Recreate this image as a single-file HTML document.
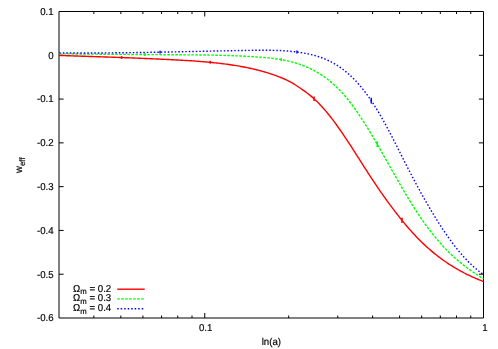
<!DOCTYPE html>
<html><head><meta charset="utf-8"><title>plot</title>
<style>html,body{margin:0;padding:0;background:#fff;}body{width:498px;height:349px;overflow:hidden;position:relative;font-family:"Liberation Sans",sans-serif;}</style>
</head><body>
<svg width="498" height="349" viewBox="0 0 498 349" style="position:absolute;left:0;top:0;will-change:transform;opacity:0.999">
<path d="M59.0,11.5H483.5V318.0H59.0Z M59.0,55.29h4.6M483.5,55.29h-4.6 M59.0,99.07h4.6M483.5,99.07h-4.6 M59.0,142.86h4.6M483.5,142.86h-4.6 M59.0,186.64h4.6M483.5,186.64h-4.6 M59.0,230.43h4.6M483.5,230.43h-4.6 M59.0,274.21h4.6M483.5,274.21h-4.6 M93.83,318.0v-2.5M93.83,11.5v2.5 M120.84,318.0v-2.5M120.84,11.5v2.5 M142.91,318.0v-2.5M142.91,11.5v2.5 M161.57,318.0v-2.5M161.57,11.5v2.5 M177.74,318.0v-2.5M177.74,11.5v2.5 M192.00,318.0v-2.5M192.00,11.5v2.5 M288.66,318.0v-2.5M288.66,11.5v2.5 M337.75,318.0v-2.5M337.75,11.5v2.5 M372.57,318.0v-2.5M372.57,11.5v2.5 M399.59,318.0v-2.5M399.59,11.5v2.5 M421.66,318.0v-2.5M421.66,11.5v2.5 M440.32,318.0v-2.5M440.32,11.5v2.5 M456.49,318.0v-2.5M456.49,11.5v2.5 M470.75,318.0v-2.5M470.75,11.5v2.5 M204.75,318.0v-5M204.75,11.5v5" fill="none" stroke="#000" stroke-width="1"/>
<g fill="none" stroke-width="1.4" stroke-linejoin="round">
<path d="M59.30,55.43 L60.80,55.48 L62.30,55.53 L63.80,55.58 L65.30,55.63 L66.80,55.68 L68.30,55.73 L69.80,55.78 L71.30,55.83 L72.80,55.88 L74.30,55.93 L75.80,55.98 L77.30,56.03 L78.80,56.08 L80.30,56.13 L81.80,56.18 L83.30,56.23 L84.80,56.28 L86.30,56.33 L87.80,56.38 L89.30,56.43 L90.80,56.48 L92.30,56.53 L93.80,56.58 L95.30,56.63 L96.80,56.68 L98.30,56.73 L99.80,56.78 L101.30,56.83 L102.80,56.88 L104.30,56.93 L105.80,56.99 L107.30,57.04 L108.80,57.09 L110.30,57.14 L111.80,57.19 L113.30,57.25 L114.80,57.30 L116.30,57.35 L117.80,57.41 L119.30,57.46 L120.80,57.51 L122.30,57.57 L123.80,57.63 L125.30,57.68 L126.80,57.74 L128.30,57.79 L129.80,57.85 L131.30,57.91 L132.80,57.97 L134.30,58.02 L135.80,58.08 L137.30,58.14 L138.80,58.20 L140.30,58.26 L141.80,58.33 L143.30,58.39 L144.80,58.45 L146.30,58.51 L147.80,58.58 L149.30,58.64 L150.80,58.71 L152.30,58.77 L153.80,58.84 L155.30,58.91 L156.80,58.98 L158.30,59.04 L159.80,59.11 L161.30,59.18 L162.80,59.26 L164.30,59.33 L165.80,59.40 L167.30,59.47 L168.80,59.55 L170.30,59.62 L171.80,59.70 L173.30,59.78 L174.80,59.86 L176.30,59.94 L177.80,60.02 L179.30,60.10 L180.80,60.18 L182.30,60.27 L183.80,60.35 L185.30,60.44 L186.80,60.53 L188.30,60.62 L189.80,60.72 L191.30,60.81 L192.80,60.91 L194.30,61.02 L195.80,61.12 L197.30,61.23 L198.80,61.34 L200.30,61.46 L201.80,61.58 L203.30,61.70 L204.80,61.83 L206.30,61.96 L207.80,62.09 L209.30,62.23 L210.80,62.38 L212.30,62.52 L213.80,62.68 L215.30,62.84 L216.80,63.00 L218.30,63.17 L219.80,63.34 L221.30,63.52 L222.80,63.71 L224.30,63.90 L225.80,64.10 L227.30,64.30 L228.80,64.51 L230.30,64.73 L231.80,64.96 L233.30,65.19 L234.80,65.42 L236.30,65.67 L237.80,65.92 L239.30,66.18 L240.80,66.45 L242.30,66.73 L243.80,67.01 L245.30,67.30 L246.80,67.60 L248.30,67.91 L249.80,68.23 L251.30,68.55 L252.80,68.89 L254.30,69.24 L255.80,69.59 L257.30,69.96 L258.80,70.34 L260.30,70.73 L261.80,71.14 L263.30,71.56 L264.80,71.99 L266.30,72.43 L267.80,72.89 L269.30,73.36 L270.80,73.85 L272.30,74.35 L273.80,74.87 L275.30,75.41 L276.80,75.96 L278.30,76.53 L279.80,77.12 L281.30,77.73 L282.80,78.35 L284.30,79.00 L285.80,79.67 L287.30,80.37 L288.80,81.10 L290.30,81.89 L291.80,82.72 L293.30,83.60 L294.80,84.53 L296.30,85.49 L297.80,86.48 L299.30,87.49 L300.80,88.51 L302.30,89.55 L303.80,90.61 L305.30,91.69 L306.80,92.80 L308.30,93.95 L309.80,95.14 L311.30,96.37 L312.80,97.65 L314.30,98.99 L315.80,100.39 L317.30,101.84 L318.80,103.34 L320.30,104.90 L321.80,106.51 L323.30,108.17 L324.80,109.88 L326.30,111.65 L327.80,113.46 L329.30,115.31 L330.80,117.22 L332.30,119.17 L333.80,121.16 L335.30,123.19 L336.80,125.26 L338.30,127.36 L339.80,129.50 L341.30,131.66 L342.80,133.86 L344.30,136.08 L345.80,138.32 L347.30,140.59 L348.80,142.87 L350.30,145.18 L351.80,147.49 L353.30,149.82 L354.80,152.16 L356.30,154.51 L357.80,156.87 L359.30,159.22 L360.80,161.58 L362.30,163.94 L363.80,166.29 L365.30,168.64 L366.80,170.98 L368.30,173.31 L369.80,175.63 L371.30,177.93 L372.80,180.21 L374.30,182.48 L375.80,184.73 L377.30,186.95 L378.80,189.14 L380.30,191.31 L381.80,193.46 L383.30,195.59 L384.80,197.69 L386.30,199.77 L387.80,201.83 L389.30,203.87 L390.80,205.88 L392.30,207.89 L393.80,209.87 L395.30,211.83 L396.80,213.77 L398.30,215.69 L399.80,217.59 L401.30,219.47 L402.80,221.32 L404.30,223.14 L405.80,224.94 L407.30,226.71 L408.80,228.45 L410.30,230.16 L411.80,231.84 L413.30,233.48 L414.80,235.10 L416.30,236.68 L417.80,238.23 L419.30,239.75 L420.80,241.24 L422.30,242.70 L423.80,244.13 L425.30,245.53 L426.80,246.90 L428.30,248.25 L429.80,249.56 L431.30,250.85 L432.80,252.11 L434.30,253.34 L435.80,254.55 L437.30,255.73 L438.80,256.89 L440.30,258.02 L441.80,259.12 L443.30,260.20 L444.80,261.26 L446.30,262.29 L447.80,263.31 L449.30,264.29 L450.80,265.26 L452.30,266.20 L453.80,267.12 L455.30,268.02 L456.80,268.90 L458.30,269.76 L459.80,270.60 L461.30,271.42 L462.80,272.22 L464.30,273.00 L465.80,273.76 L467.30,274.51 L468.80,275.24 L470.30,275.95 L471.80,276.64 L473.30,277.32 L474.80,277.98 L476.30,278.63 L477.80,279.26 L479.30,279.87 L480.80,280.47 L482.30,281.06 L483.50,281.52" stroke="#f00"/>
<path d="M59.30,53.81 L60.80,53.83 L62.30,53.84 L63.80,53.85 L65.30,53.87 L66.80,53.88 L68.30,53.89 L69.80,53.91 L71.30,53.92 L72.80,53.93 L74.30,53.95 L75.80,53.96 L77.30,53.97 L78.80,53.99 L80.30,54.00 L81.80,54.01 L83.30,54.03 L84.80,54.04 L86.30,54.05 L87.80,54.07 L89.30,54.08 L90.80,54.09 L92.30,54.11 L93.80,54.12 L95.30,54.14 L96.80,54.15 L98.30,54.16 L99.80,54.18 L101.30,54.19 L102.80,54.20 L104.30,54.22 L105.80,54.23 L107.30,54.24 L108.80,54.26 L110.30,54.27 L111.80,54.28 L113.30,54.30 L114.80,54.31 L116.30,54.32 L117.80,54.33 L119.30,54.35 L120.80,54.36 L122.30,54.37 L123.80,54.39 L125.30,54.40 L126.80,54.41 L128.30,54.42 L129.80,54.44 L131.30,54.45 L132.80,54.46 L134.30,54.47 L135.80,54.49 L137.30,54.50 L138.80,54.51 L140.30,54.52 L141.80,54.53 L143.30,54.55 L144.80,54.56 L146.30,54.57 L147.80,54.58 L149.30,54.59 L150.80,54.60 L152.30,54.61 L153.80,54.62 L155.30,54.64 L156.80,54.65 L158.30,54.66 L159.80,54.67 L161.30,54.68 L162.80,54.69 L164.30,54.70 L165.80,54.71 L167.30,54.72 L168.80,54.73 L170.30,54.74 L171.80,54.75 L173.30,54.76 L174.80,54.77 L176.30,54.78 L177.80,54.78 L179.30,54.79 L180.80,54.80 L182.30,54.81 L183.80,54.82 L185.30,54.83 L186.80,54.84 L188.30,54.85 L189.80,54.86 L191.30,54.87 L192.80,54.89 L194.30,54.90 L195.80,54.91 L197.30,54.93 L198.80,54.94 L200.30,54.96 L201.80,54.98 L203.30,54.99 L204.80,55.01 L206.30,55.03 L207.80,55.06 L209.30,55.08 L210.80,55.11 L212.30,55.13 L213.80,55.16 L215.30,55.19 L216.80,55.22 L218.30,55.26 L219.80,55.29 L221.30,55.33 L222.80,55.37 L224.30,55.41 L225.80,55.45 L227.30,55.50 L228.80,55.55 L230.30,55.60 L231.80,55.65 L233.30,55.71 L234.80,55.77 L236.30,55.83 L237.80,55.89 L239.30,55.96 L240.80,56.03 L242.30,56.10 L243.80,56.18 L245.30,56.26 L246.80,56.34 L248.30,56.42 L249.80,56.51 L251.30,56.60 L252.80,56.70 L254.30,56.80 L255.80,56.90 L257.30,57.01 L258.80,57.12 L260.30,57.23 L261.80,57.35 L263.30,57.47 L264.80,57.60 L266.30,57.74 L267.80,57.88 L269.30,58.04 L270.80,58.20 L272.30,58.37 L273.80,58.56 L275.30,58.75 L276.80,58.96 L278.30,59.18 L279.80,59.42 L281.30,59.67 L282.80,59.94 L284.30,60.22 L285.80,60.53 L287.30,60.85 L288.80,61.19 L290.30,61.55 L291.80,61.93 L293.30,62.33 L294.80,62.75 L296.30,63.20 L297.80,63.67 L299.30,64.17 L300.80,64.69 L302.30,65.24 L303.80,65.82 L305.30,66.42 L306.80,67.06 L308.30,67.72 L309.80,68.41 L311.30,69.14 L312.80,69.90 L314.30,70.69 L315.80,71.51 L317.30,72.38 L318.80,73.27 L320.30,74.21 L321.80,75.18 L323.30,76.20 L324.80,77.25 L326.30,78.35 L327.80,79.49 L329.30,80.67 L330.80,81.90 L332.30,83.17 L333.80,84.50 L335.30,85.87 L336.80,87.29 L338.30,88.76 L339.80,90.29 L341.30,91.86 L342.80,93.49 L344.30,95.18 L345.80,96.92 L347.30,98.72 L348.80,100.58 L350.30,102.50 L351.80,104.47 L353.30,106.49 L354.80,108.57 L356.30,110.69 L357.80,112.87 L359.30,115.08 L360.80,117.34 L362.30,119.64 L363.80,121.98 L365.30,124.36 L366.80,126.77 L368.30,129.21 L369.80,131.68 L371.30,134.17 L372.80,136.70 L374.30,139.24 L375.80,141.81 L377.30,144.40 L378.80,147.00 L380.30,149.61 L381.80,152.24 L383.30,154.88 L384.80,157.53 L386.30,160.18 L387.80,162.84 L389.30,165.49 L390.80,168.15 L392.30,170.81 L393.80,173.45 L395.30,176.10 L396.80,178.73 L398.30,181.35 L399.80,183.95 L401.30,186.55 L402.80,189.12 L404.30,191.67 L405.80,194.20 L407.30,196.70 L408.80,199.18 L410.30,201.63 L411.80,204.05 L413.30,206.44 L414.80,208.78 L416.30,211.10 L417.80,213.38 L419.30,215.62 L420.80,217.82 L422.30,219.99 L423.80,222.12 L425.30,224.22 L426.80,226.27 L428.30,228.30 L429.80,230.28 L431.30,232.23 L432.80,234.14 L434.30,236.01 L435.80,237.84 L437.30,239.64 L438.80,241.40 L440.30,243.12 L441.80,244.81 L443.30,246.45 L444.80,248.06 L446.30,249.63 L447.80,251.16 L449.30,252.65 L450.80,254.11 L452.30,255.52 L453.80,256.91 L455.30,258.26 L456.80,259.57 L458.30,260.86 L459.80,262.11 L461.30,263.33 L462.80,264.53 L464.30,265.70 L465.80,266.85 L467.30,267.97 L468.80,269.07 L470.30,270.14 L471.80,271.20 L473.30,272.24 L474.80,273.26 L476.30,274.27 L477.80,275.25 L479.30,276.23 L480.80,277.19 L482.30,278.15 L483.50,278.90" stroke="#0f0" stroke-dasharray="2.6 1.4"/>
<path d="M59.30,52.90 L60.80,52.91 L62.30,52.92 L63.80,52.93 L65.30,52.94 L66.80,52.95 L68.30,52.96 L69.80,52.97 L71.30,52.98 L72.80,52.98 L74.30,52.99 L75.80,52.99 L77.30,52.99 L78.80,53.00 L80.30,53.00 L81.80,53.00 L83.30,53.00 L84.80,53.00 L86.30,52.99 L87.80,52.99 L89.30,52.99 L90.80,52.98 L92.30,52.98 L93.80,52.97 L95.30,52.97 L96.80,52.96 L98.30,52.95 L99.80,52.94 L101.30,52.94 L102.80,52.93 L104.30,52.92 L105.80,52.90 L107.30,52.89 L108.80,52.88 L110.30,52.87 L111.80,52.85 L113.30,52.84 L114.80,52.83 L116.30,52.81 L117.80,52.79 L119.30,52.78 L120.80,52.76 L122.30,52.74 L123.80,52.72 L125.30,52.71 L126.80,52.69 L128.30,52.67 L129.80,52.65 L131.30,52.63 L132.80,52.61 L134.30,52.58 L135.80,52.56 L137.30,52.54 L138.80,52.52 L140.30,52.49 L141.80,52.47 L143.30,52.45 L144.80,52.42 L146.30,52.40 L147.80,52.37 L149.30,52.35 L150.80,52.32 L152.30,52.29 L153.80,52.27 L155.30,52.24 L156.80,52.21 L158.30,52.19 L159.80,52.16 L161.30,52.13 L162.80,52.10 L164.30,52.07 L165.80,52.05 L167.30,52.02 L168.80,51.99 L170.30,51.96 L171.80,51.93 L173.30,51.90 L174.80,51.87 L176.30,51.84 L177.80,51.81 L179.30,51.78 L180.80,51.75 L182.30,51.72 L183.80,51.68 L185.30,51.65 L186.80,51.62 L188.30,51.59 L189.80,51.56 L191.30,51.53 L192.80,51.50 L194.30,51.47 L195.80,51.43 L197.30,51.40 L198.80,51.37 L200.30,51.34 L201.80,51.31 L203.30,51.28 L204.80,51.25 L206.30,51.21 L207.80,51.18 L209.30,51.15 L210.80,51.12 L212.30,51.09 L213.80,51.06 L215.30,51.03 L216.80,50.99 L218.30,50.96 L219.80,50.93 L221.30,50.90 L222.80,50.87 L224.30,50.84 L225.80,50.81 L227.30,50.78 L228.80,50.75 L230.30,50.72 L231.80,50.69 L233.30,50.66 L234.80,50.64 L236.30,50.61 L237.80,50.58 L239.30,50.55 L240.80,50.52 L242.30,50.49 L243.80,50.47 L245.30,50.44 L246.80,50.41 L248.30,50.39 L249.80,50.36 L251.30,50.34 L252.80,50.31 L254.30,50.29 L255.80,50.27 L257.30,50.25 L258.80,50.24 L260.30,50.23 L261.80,50.22 L263.30,50.22 L264.80,50.22 L266.30,50.23 L267.80,50.24 L269.30,50.26 L270.80,50.28 L272.30,50.31 L273.80,50.35 L275.30,50.39 L276.80,50.44 L278.30,50.50 L279.80,50.56 L281.30,50.64 L282.80,50.72 L284.30,50.82 L285.80,50.92 L287.30,51.03 L288.80,51.16 L290.30,51.29 L291.80,51.44 L293.30,51.60 L294.80,51.77 L296.30,51.95 L297.80,52.14 L299.30,52.35 L300.80,52.57 L302.30,52.81 L303.80,53.06 L305.30,53.33 L306.80,53.62 L308.30,53.92 L309.80,54.25 L311.30,54.60 L312.80,54.97 L314.30,55.37 L315.80,55.79 L317.30,56.24 L318.80,56.72 L320.30,57.22 L321.80,57.76 L323.30,58.33 L324.80,58.94 L326.30,59.58 L327.80,60.25 L329.30,60.96 L330.80,61.72 L332.30,62.51 L333.80,63.34 L335.30,64.21 L336.80,65.13 L338.30,66.09 L339.80,67.10 L341.30,68.16 L342.80,69.27 L344.30,70.42 L345.80,71.62 L347.30,72.88 L348.80,74.19 L350.30,75.55 L351.80,76.97 L353.30,78.44 L354.80,79.96 L356.30,81.55 L357.80,83.19 L359.30,84.89 L360.80,86.65 L362.30,88.47 L363.80,90.35 L365.30,92.30 L366.80,94.30 L368.30,96.37 L369.80,98.51 L371.30,100.72 L372.80,102.98 L374.30,105.31 L375.80,107.71 L377.30,110.16 L378.80,112.66 L380.30,115.23 L381.80,117.84 L383.30,120.51 L384.80,123.23 L386.30,125.99 L387.80,128.79 L389.30,131.64 L390.80,134.51 L392.30,137.41 L393.80,140.34 L395.30,143.29 L396.80,146.25 L398.30,149.22 L399.80,152.20 L401.30,155.18 L402.80,158.15 L404.30,161.12 L405.80,164.08 L407.30,167.02 L408.80,169.94 L410.30,172.84 L411.80,175.72 L413.30,178.57 L414.80,181.41 L416.30,184.22 L417.80,187.01 L419.30,189.77 L420.80,192.51 L422.30,195.22 L423.80,197.90 L425.30,200.56 L426.80,203.19 L428.30,205.79 L429.80,208.35 L431.30,210.89 L432.80,213.40 L434.30,215.87 L435.80,218.32 L437.30,220.72 L438.80,223.10 L440.30,225.43 L441.80,227.74 L443.30,230.00 L444.80,232.23 L446.30,234.42 L447.80,236.57 L449.30,238.69 L450.80,240.76 L452.30,242.79 L453.80,244.78 L455.30,246.72 L456.80,248.62 L458.30,250.48 L459.80,252.30 L461.30,254.07 L462.80,255.79 L464.30,257.46 L465.80,259.09 L467.30,260.67 L468.80,262.20 L470.30,263.68 L471.80,265.11 L473.30,266.48 L474.80,267.81 L476.30,269.08 L477.80,270.30 L479.30,271.46 L480.80,272.57 L482.30,273.63 L483.50,274.43" stroke="#00f" stroke-dasharray="1.5 2"/>
</g>
<path d="M121.6,56.1V59.0" stroke="#f00" stroke-width="1.5"/><path d="M210.2,60.8V63.8" stroke="#f00" stroke-width="1.5"/><path d="M314.1,96.5V101.1" stroke="#f00" stroke-width="1.5"/><path d="M402.0,217.7V223.0" stroke="#f00" stroke-width="1.5"/><path d="M144.9,53.1V56.0" stroke="#0f0" stroke-width="1.5"/><path d="M281.3,58.1V61.2" stroke="#0f0" stroke-width="1.5"/><path d="M377.2,141.3V147.1" stroke="#0f0" stroke-width="1.5"/><path d="M160.1,50.7V53.6" stroke="#00f" stroke-width="1.5"/><path d="M297.0,50.5V53.6" stroke="#00f" stroke-width="1.5"/><path d="M371.3,97.8V103.6" stroke="#00f" stroke-width="1.5"/>
<g fill="none" stroke-width="1.4">
<path d="M117.2,289.2H144.7" stroke="#f00"/>
<path d="M117.2,298.9H144.7" stroke="#0f0" stroke-dasharray="2.6 1.4"/>
<path d="M117.2,308.7H144.7" stroke="#00f" stroke-dasharray="1.5 2"/>
</g>
<g font-family="Liberation Sans, sans-serif" font-size="10px" fill="#000" stroke="#000" stroke-width="0.18" style="text-rendering:geometricPrecision">
<text transform="translate(53.60,14.80) scale(0.965,1)" text-anchor="end">0.1</text>
<text transform="translate(53.60,58.59) scale(0.965,1)" text-anchor="end">0</text>
<text transform="translate(53.60,102.37) scale(0.965,1)" text-anchor="end">-0.1</text>
<text transform="translate(53.60,146.16) scale(0.965,1)" text-anchor="end">-0.2</text>
<text transform="translate(53.60,189.94) scale(0.965,1)" text-anchor="end">-0.3</text>
<text transform="translate(53.60,233.73) scale(0.965,1)" text-anchor="end">-0.4</text>
<text transform="translate(53.60,277.51) scale(0.965,1)" text-anchor="end">-0.5</text>
<text transform="translate(53.60,321.30) scale(0.965,1)" text-anchor="end">-0.6</text>
<text transform="translate(205.65,331.20) scale(0.965,1)" text-anchor="middle">0.1</text>
<text transform="translate(485.00,331.20) scale(0.965,1)" text-anchor="middle">1</text>
<text transform="translate(271.35,345.30) scale(0.965,1)" text-anchor="middle">ln(a)</text>
<text transform="translate(21.80,172.90) rotate(-90) scale(0.965,1)" text-anchor="start">w<tspan font-size="8px" dy="3.2">eff</tspan></text>
<text transform="translate(111.20,291.70) scale(0.965,1)" text-anchor="end">Ω<tspan font-size="8px" dy="2.5">m</tspan><tspan dy="-2.5"> = 0.2</tspan></text>
<text transform="translate(111.20,301.45) scale(0.965,1)" text-anchor="end">Ω<tspan font-size="8px" dy="2.5">m</tspan><tspan dy="-2.5"> = 0.3</tspan></text>
<text transform="translate(111.20,311.10) scale(0.965,1)" text-anchor="end">Ω<tspan font-size="8px" dy="2.5">m</tspan><tspan dy="-2.5"> = 0.4</tspan></text>
</g>
</svg>
</body></html>
